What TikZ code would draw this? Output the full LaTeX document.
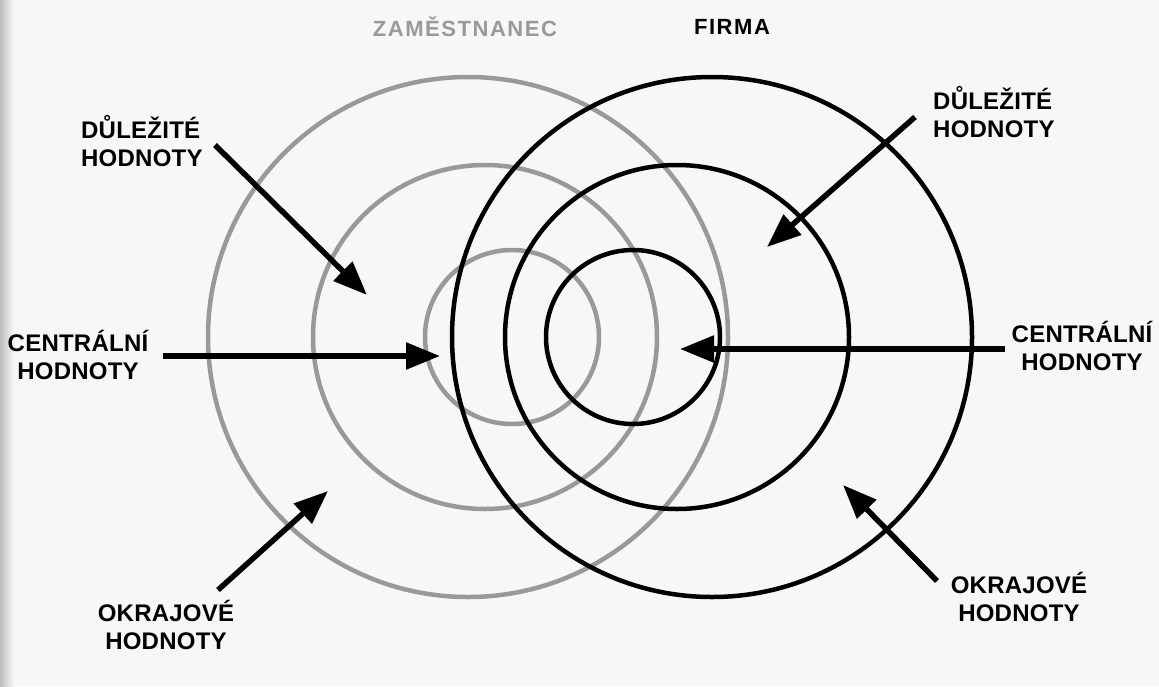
\documentclass[tikz,border=0pt]{standalone}
\usepackage{fontspec}
\newfontfamily\labfont[LetterSpace=1]{Liberation Sans}
\newfontfamily\headfont[LetterSpace=7]{Liberation Sans}
\usetikzlibrary{arrows.meta}
\definecolor{scanbg}{HTML}{F7F7F7}
\definecolor{zamgray}{HTML}{999999}
\begin{document}
\begin{tikzpicture}[x=1pt,y=-1pt,
    zamring/.style={draw=zamgray,line width=4.5pt},
    firmring/.style={draw=black,line width=4.5pt},
    lbl/.style={font=\labfont\bfseries\fontsize{24}{28.5}\selectfont,inner sep=0pt},
    head/.style={font=\headfont\bfseries\fontsize{22}{25}\selectfont,inner sep=0pt},
    ptr/.style={line width=5.5pt,-{Triangle[length=34pt,width=26pt]}}]
    \fill[scanbg] (0,0) rectangle (1159,686);
    \shade[left color=black!25,right color=scanbg] (0,0) rectangle (14,686);
    \useasboundingbox (0,0) rectangle (1159,686);
    % kruhy: zamestnanec (sede) a firma (cerne)
    \foreach \cx/\r in {468/260,485/172,512/87} \draw[zamring] (\cx,337) circle[radius=\r];
    \foreach \cx/\r in {712/260,677/172,633/87} \draw[firmring] (\cx,337) circle[radius=\r];
    \node[head,text=zamgray] (zam) at (465,27) {ZAMĚSTNANEC};
    \node[head] (firma) at (732,27) {FIRMA};
    % popisky
    \node[lbl,align=left,anchor=west] (dulz) at (81,141) {DŮLEŽITÉ\\HODNOTY};
    \node[lbl,align=center] (cenz) at (78,355) {CENTRÁLNÍ\\HODNOTY};
    \node[lbl,align=center] (okrz) at (166,625) {OKRAJOVÉ\\HODNOTY};
    \node[lbl,align=left,anchor=west] (dulf) at (933,112) {DŮLEŽITÉ\\HODNOTY};
    \node[lbl,align=center] (cenf) at (1082,346) {CENTRÁLNÍ\\HODNOTY};
    \node[lbl,align=center] (okrf) at (1019,597) {OKRAJOVÉ\\HODNOTY};
    % sipky
    \coordinate (dulz-s) at (215,145); \coordinate (dulz-e) at (367,295);
    \coordinate (cenz-s) at (163,356); \coordinate (cenz-e) at (440,356);
    \coordinate (okrz-s) at (218,590); \coordinate (okrz-e) at (328,491);
    \coordinate (dulf-s) at (915,117); \coordinate (dulf-e) at (767,247);
    \coordinate (cenf-s) at (1005,349); \coordinate (cenf-e) at (680,349);
    \coordinate (okrf-s) at (937,581); \coordinate (okrf-e) at (843,485);
    \foreach \a in {dulz,cenz,okrz,dulf,cenf,okrf} \draw[ptr] (\a-s) -- (\a-e);
\end{tikzpicture}
\end{document}
